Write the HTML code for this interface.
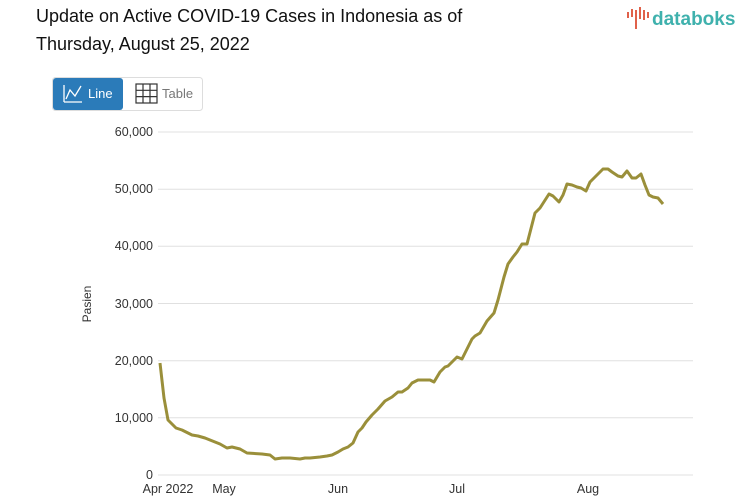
<!DOCTYPE html>
<html><head><meta charset="utf-8"><style>
body{margin:0;background:#fff;width:753px;height:498px;overflow:hidden;font-family:"Liberation Sans",sans-serif;}
</style></head><body>
<svg width="753" height="498" xmlns="http://www.w3.org/2000/svg" style="position:absolute;left:0;top:0">
<text x="36" y="22" font-size="18" fill="#111" font-family="Liberation Sans">Update on Active COVID-19 Cases in Indonesia as of</text>
<text x="36" y="50" font-size="18" fill="#111" font-family="Liberation Sans">Thursday, August 25, 2022</text>
<g fill="#e0614a"><rect x="627" y="12" width="2" height="6"/><rect x="631" y="9" width="2" height="8"/><rect x="635" y="10" width="2" height="19"/><rect x="639" y="7" width="2" height="12"/><rect x="643" y="10" width="2" height="10"/><rect x="647" y="12" width="2" height="6"/></g>
<text x="652" y="25" font-size="19" fill="#3fb1ad" font-family="Liberation Sans" font-weight="bold">databoks</text>
<rect x="52.5" y="77.5" width="150" height="33" rx="3" fill="#fff" stroke="#ddd"/>
<rect x="53" y="78" width="70" height="32" rx="3" fill="#2b7bb9"/>
<line x1="64" y1="102" x2="64" y2="85" stroke="#fff" stroke-width="1.3"/>
<line x1="64" y1="102" x2="82" y2="102" stroke="#fff" stroke-width="1.3"/>
<polyline points="66,99 70,90 75,96 81,86" fill="none" stroke="#fff" stroke-width="1.3"/>
<text x="88" y="98" font-size="13" fill="#fff">Line</text>
<g stroke="#333" stroke-width="1.2" fill="none"><rect x="136" y="84" width="21" height="19"/><line x1="143" y1="84" x2="143" y2="103"/><line x1="150" y1="84" x2="150" y2="103"/><line x1="136" y1="90.3" x2="157" y2="90.3"/><line x1="136" y1="96.6" x2="157" y2="96.6"/></g>
<text x="162" y="98" font-size="13" fill="#777">Table</text>
<g stroke="#e0e0e0" stroke-width="1">
<line x1="158" y1="132" x2="693" y2="132"/><line x1="158" y1="189.2" x2="693" y2="189.2"/><line x1="158" y1="246.3" x2="693" y2="246.3"/><line x1="158" y1="303.5" x2="693" y2="303.5"/><line x1="158" y1="360.7" x2="693" y2="360.7"/><line x1="158" y1="417.8" x2="693" y2="417.8"/><line x1="158" y1="475" x2="693" y2="475"/>
</g>
<g font-size="12.5" fill="#333" text-anchor="end">
<text x="153" y="136">60,000</text><text x="153" y="193">50,000</text><text x="153" y="250">40,000</text><text x="153" y="308">30,000</text><text x="153" y="365">20,000</text><text x="153" y="422">10,000</text><text x="153" y="479">0</text>
</g>
<text transform="translate(91,304) rotate(-90)" font-size="12" fill="#333" text-anchor="middle">Pasien</text>
<g font-size="12.5" fill="#333" text-anchor="middle">
<text x="168" y="493">Apr 2022</text><text x="224" y="493">May</text><text x="338" y="493">Jun</text><text x="457" y="493">Jul</text><text x="588" y="493">Aug</text>
</g>
<polyline fill="none" stroke="#9a8f3a" stroke-width="3" stroke-linejoin="round" points="160,363 164,398 168,420 172,424 176,428 182,430 186,432 192,435 198,436 205,438 210,440 215,442 220,444 227,448 232,447 240,449 247,453 262,454 270,455 275,459 282,458 290,458 300,459 305,458 310,458 320,457 327,456 332,455 338,452 343,449 348,447 353,443 358,432 362,428 366,422 372,415 378,409 385,401 392,397 398,392 402,392 408,388 412,383 418,380 425,380 430,380 434,382 440,372 445,367 448,366 457,357 462,359 472,339 475,336 480,333 487,321 494,313 498,300 504,277 508,264 513,257 517,252 522,244 527,244 535,213 540,208 549,194 553,196 559,202 563,195 567,184 572,185 577,187 581,188 586,191 590,182 595,177 603,169 608,169 612,172 618,176 622,177 627,171 632,178 636,178 641,174 645,185 649,195 653,197 658,198 663,204"/>
</svg>
</body></html>
